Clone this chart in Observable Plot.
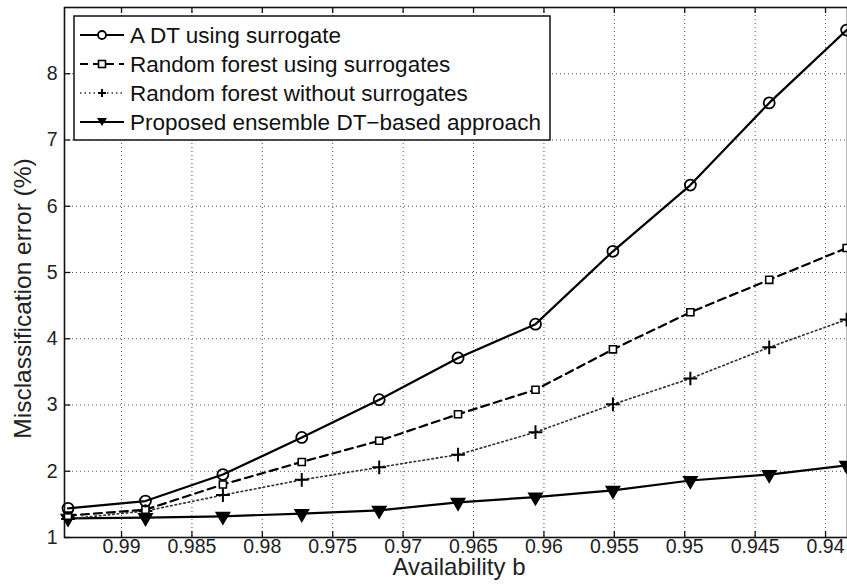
<!DOCTYPE html>
<html><head><meta charset="utf-8">
<script src="https://cdn.jsdelivr.net/npm/d3@7"></script>
<script src="https://cdn.jsdelivr.net/npm/@observablehq/plot@0.6"></script>
<style>body{margin:0;background:#fff;} svg{font-family:"Liberation Sans",Arial,sans-serif;}</style>
</head><body><div id="chart"></div>
<script>
const availability = [0.9938, 0.9883, 0.9828, 0.9772, 0.9717, 0.9661, 0.9606, 0.9551, 0.9496, 0.9440, 0.9385];
const dtSurrogate = [1.44, 1.55, 1.95, 2.51, 3.08, 3.71, 4.22, 5.32, 6.32, 7.56, 8.66];
const rfSurrogates = [1.33, 1.42, 1.80, 2.14, 2.46, 2.86, 3.23, 3.84, 4.40, 4.89, 5.37];
const rfNoSurrogates = [1.28, 1.40, 1.64, 1.87, 2.06, 2.25, 2.59, 3.01, 3.40, 3.87, 4.29];
const proposed = [1.29, 1.30, 1.32, 1.36, 1.41, 1.53, 1.61, 1.71, 1.86, 1.95, 2.09];
const seriesNames = ["A DT using surrogate", "Random forest using surrogates", "Random forest without surrogates", "Proposed ensemble DT\u2212based approach"];
const xTicks = [0.99, 0.985, 0.98, 0.975, 0.97, 0.965, 0.96, 0.955, 0.95, 0.945, 0.94];
const yTicks = [1, 2, 3, 4, 5, 6, 7, 8];

const mk = (ys) => availability.map((x, i) => ({x, y: ys[i]}));
const d1 = mk(dtSurrogate), d2 = mk(rfSurrogates), d3s = mk(rfNoSurrogates), d4 = mk(proposed);

const xDom = [0.99405, 0.93844];
const yDom = [1, 9];

const chart = Plot.plot({
  width: 847, height: 588,
  marginLeft: 64, marginRight: 0, marginTop: 7, marginBottom: 51,
  style: {fontFamily: '"Liberation Sans", Arial, sans-serif', background: "#fff"},
  x: {domain: xDom, label: null, axis: null},
  y: {domain: yDom, label: null, axis: null},
  marks: [
    Plot.gridX(xTicks, {stroke: "#555", strokeOpacity: 1, strokeWidth: 1, strokeDasharray: "1,3"}),
    Plot.gridY(yTicks, {stroke: "#555", strokeOpacity: 1, strokeWidth: 1, strokeDasharray: "1,3"}),
    // inward ticks
    Plot.ruleX(xTicks, {y1: yDom[0], y2: yDom[0] + 0.09, stroke: "#111", strokeWidth: 1.3}),
    Plot.ruleX(xTicks, {y1: yDom[1], y2: yDom[1] - 0.09, stroke: "#111", strokeWidth: 1.3}),
    Plot.ruleY(yTicks, {x1: xDom[0], x2: xDom[0] - 0.00045, stroke: "#111", strokeWidth: 1.3}),
    // tick labels
    Plot.text(xTicks, {x: d => d, frameAnchor: "bottom", lineAnchor: "top", dy: 2, fontSize: 19.5, fill: "#222", text: d => String(d)}),
    Plot.text(yTicks, {y: d => d, frameAnchor: "left", textAnchor: "end", dx: -7, fontSize: 19.5, fill: "#222", text: d => String(d)}),
    Plot.frame({stroke: "#111", strokeWidth: 1.6}),
    Plot.line(d4, {x: "x", y: "y", stroke: "#000", strokeWidth: 2.2}),
    Plot.line(d3s, {x: "x", y: "y", stroke: "#333", strokeWidth: 1.7, strokeDasharray: "1.5,3"}),
    Plot.line(d2, {x: "x", y: "y", stroke: "#000", strokeWidth: 2.2, strokeDasharray: "8,5"}),
    Plot.line(d1, {x: "x", y: "y", stroke: "#000", strokeWidth: 2.2}),
    Plot.dot(d4, {x: "x", y: "y", symbol: "triangle", rotate: 180, r: 5, fill: "#000", stroke: "#000"}),
    Plot.dot(d3s, {x: "x", y: "y", symbol: "plus", r: 4.5, stroke: "#000", strokeWidth: 2}),
    Plot.dot(d2, {x: "x", y: "y", symbol: "square", r: 4, fill: "#fff", stroke: "#000", strokeWidth: 1.6}),
    Plot.dot(d1, {x: "x", y: "y", symbol: "circle", r: 5.5, fill: "none", stroke: "#000", strokeWidth: 1.8}),
    Plot.text(["Misclassification error (%)"], {frameAnchor: "left", textAnchor: "middle", dx: -41, dy: 26, rotate: -90, fontSize: 24.5, fill: "#222"}),
    Plot.text(["Availability b"], {frameAnchor: "bottom", textAnchor: "middle", lineAnchor: "top", dx: 3, dy: 20.5, fontSize: 24, fill: "#222"})
  ]
});
document.getElementById("chart").appendChild(chart);

// legend
const svg = d3.select(chart);
const lg = svg.append("g").attr("class", "legend");
lg.append("rect").attr("x", 74).attr("y", 16).attr("width", 476).attr("height", 124)
  .attr("fill", "#fff").attr("stroke", "#111").attr("stroke-width", 1.5);
const styles = [
  {dash: null, sw: 2.2, stroke: "#000", sym: "circle"},
  {dash: "8,5", sw: 2.2, stroke: "#000", sym: "square"},
  {dash: "1.5,3", sw: 1.7, stroke: "#333", sym: "plus"},
  {dash: null, sw: 2.2, stroke: "#000", sym: "triangle"}
];
seriesNames.forEach((name, i) => {
  const y = 35 + i * 29;
  const s = styles[i];
  lg.append("line").attr("x1", 80).attr("x2", 124).attr("y1", y).attr("y2", y)
    .attr("stroke", s.stroke).attr("stroke-width", s.sw).attr("stroke-dasharray", s.dash);
  const cx = 102;
  if (s.sym === "circle") lg.append("circle").attr("cx", cx).attr("cy", y).attr("r", 4).attr("fill", "#fff").attr("stroke", "#000").attr("stroke-width", 1.8);
  if (s.sym === "square") lg.append("rect").attr("x", cx - 3.5).attr("y", y - 3.5).attr("width", 7).attr("height", 7).attr("fill", "#fff").attr("stroke", "#000").attr("stroke-width", 1.6);
  if (s.sym === "plus") { lg.append("path").attr("d", `M${cx-4},${y}H${cx+4}M${cx},${y-4}V${y+4}`).attr("stroke", "#000").attr("stroke-width", 2); }
  if (s.sym === "triangle") lg.append("path").attr("d", `M${cx-5},${y-4}L${cx+5},${y-4}L${cx},${y+4}Z`).attr("fill", "#000");
  lg.append("text").attr("x", 130).attr("y", y).attr("dy", "0.35em").attr("text-anchor", "start")
    .attr("font-size", 22.5).attr("fill", "#111").text(name);
});
</script></body></html>
